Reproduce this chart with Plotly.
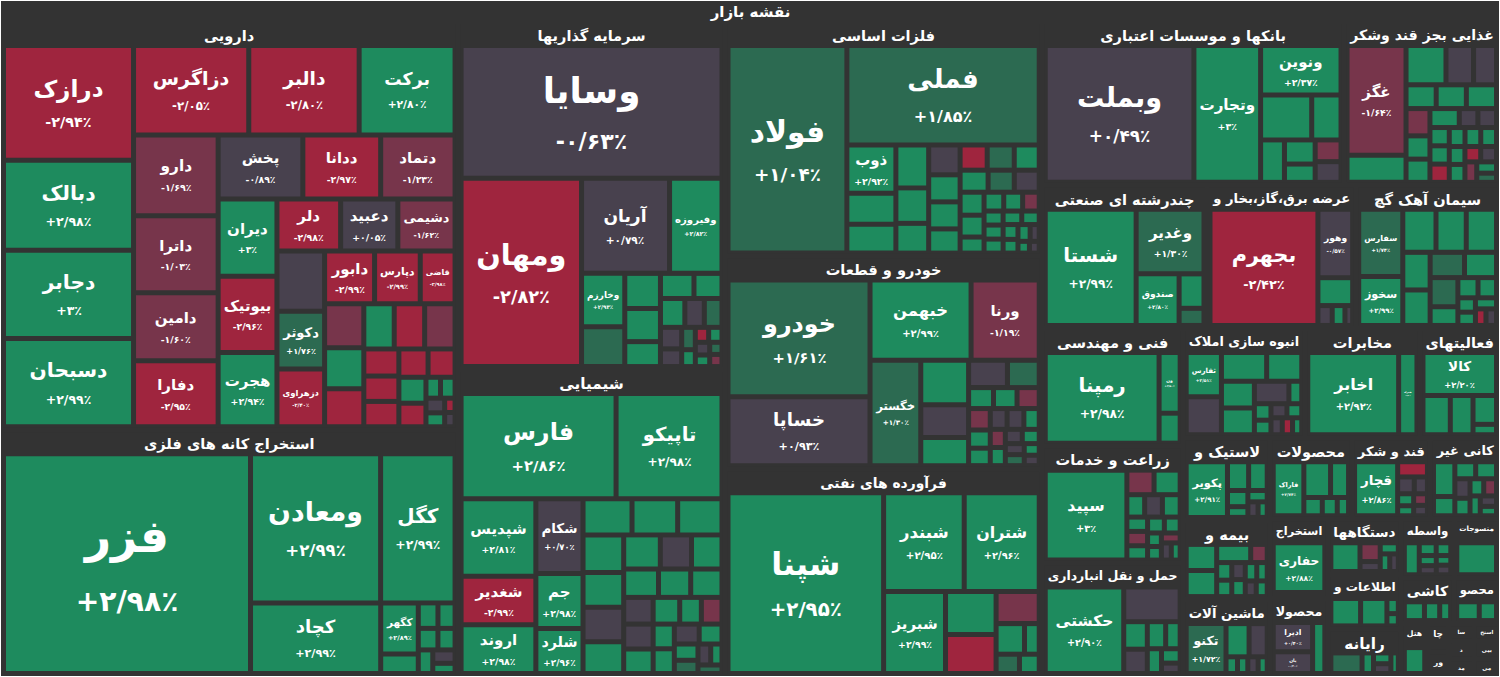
import plotly.graph_objects as go

BG = "#333333"
GREEN = "#1e8b5e"
MGREEN = "#2c6a51"
GREY = "#48414e"
MRED = "#77354b"
RED = "#9f253e"
GAP = 5

title = "نقشه بازار"

# sector headers and their share of the map (box area / 100 px)
sector_names = [
    "دارویی", "استخراج کانه های فلزی", "سرمایه گذاریها", "شیمیایی", "فلزات اساسی",
    "خودرو و قطعات", "فرآورده های نفتی", "بانکها و موسسات اعتباری", "غذایی بجز قند وشکر",
    "چندرشته ای صنعتی", "عرضه برق،گاز،بخار و", "سیمان آهک گچ", "فنی و مهندسی",
    "زراعت و خدمات", "حمل و نقل انبارداری", "انبوه سازی املاک", "مخابرات", "فعالیتهای",
    "لاستیک و", "محصولات", "قند و شکر", "کانی غیر", "بیمه و", "ماشین آلات", "استخراج",
    "دستگاهها", "واسطه", "منسوجات", "اطلاعات و", "محصولا", "رایانه", "کاشی", "محصو",
]
sector_sizes = [
    1870, 1130, 930, 820, 745, 675, 660, 495, 255, 236, 213, 206, 166, 165, 160, 133, 126,
    87, 72, 66, 64, 56, 69, 67, 46, 41, 31, 27, 40, 45, 35, 24, 21,
]

# very small sectors at the bottom right corner
tiny_names = ["هتل", "چا", "ور", "سا", "استخ", "د", "مد", "بیی", "می"]
tiny_sizes = [14, 6, 5, 4.5, 4.5, 4.5, 4.5, 4.5, 4.5]
tiny_chg = [2.9, -0.2, 2.9, 2.9, 2.9, 2.9, 2.9, -0.3, 2.9]

# stocks (visible box area / 100 px): named ones first, then the unlabeled small boxes
daru_names = ["درازک", "دبالک", "دجابر", "دسبحان", "دزاگرس", "دالبر", "برکت", "دارو", "داترا",
              "دفارا", "دامین", "پخش", "ددانا", "دتماد", "دیران", "هجرت", "بیوتیک", "دلر",
              "دعبید", "دشیمی", "دکوثر", "دزهراوی", "دابور", "دپارس", "قاضی"]
daru_size = [134, 104, 102, 102, 91, 87, 75, 59, 56, 47.5, 49, 46, 42, 40, 38, 36.5, 37.5, 27,
             24, 24, 22, 22, 21, 19, 14,
             23, 13, 12, 11, 10, 10, 10, 6.5, 6, 6, 5.5, 5, 4.5, 4, 1.5, 1.5, 1.3, 1.2, 0.5, 0.5]
daru_chg = [-2.94, 2.98, 3.00, 2.99, -2.05, -2.80, 2.80, -1.69, -1.03, -2.95, -1.60, -0.89,
            -2.97, -1.23, 3.00, 2.94, -2.96, -2.98, 0.05, -1.62, 1.76, -2.40, -2.99, -2.99, -2.98,
            -0.4, -1.45, 2.9, -2.9, 2.9, -2.95, -1.3, -2.7, -2.9, -2.8, -2.6, -2.9, 2.9, -2.9,
            2.9, 2.8, -0.2, 2.9, -2.5, -0.3]

kane_names = ["فزر", "ومعادن", "کگل", "کچاد", "کگهر"]
kane_size = [516, 179, 100, 82, 15, 4.8, 3, 2.5, 2.4, 2, 1.8, 1.5, 1.0]
kane_chg = [2.98, 2.99, 2.99, 2.99, 2.89, 2.9, 2.9, 2.9, 2.8, 2.9, 2.9, -0.1, 2.9]

sarm_names = ["وسایا", "ومهان", "آریان", "وفیروزه", "وخارزم"]
sarm_size = [320, 207, 73, 42, 18, 13, 9, 8.4, 6, 5.6, 4.5, 4.5, 3.4, 3, 2.6, 2, 1.5, 1, 0.8,
             0.8, 0.7, 0.6, 0.5, 0.5]
sarm_chg = [-0.63, -2.82, 0.79, 2.82, 2.93, 1.5, 2.9, 2.9, 2.9, 2.9, 2.9, 2.8, 0.2, 1.2, -0.4,
            -0.3, 1.3, 2.9, -2.8, 2.9, -0.2, 2.5, 1.4, -1.8]

shim_names = ["فارس", "تاپیکو", "شپدیس", "شغدیر", "اروند", "شکام", "جم", "شلرد"]
shim_size = [143, 96, 48, 29, 29, 28, 20, 16, 13, 12, 11.6, 11, 10, 10, 9, 8.7, 7.2, 7, 6.6, 6,
             5.8, 5, 4.6, 4.5, 4.4, 3.4, 3.2, 3, 3, 2.8, 2.5, 2, 1.5, 1.2, 1, 0.8]
shim_chg = [2.86, 2.98, 2.81, -2.99, 2.98, 0.70, 2.98, 2.96, 2.9, 2.9, 2.9, 2.9, 2.9, -0.3, 2.9,
            2.9, -0.5, 2.9, 2.9, 2.9, 2.9, -0.4, 0.3, 2.9, 2.9, 2.9, -1.6, 2.9, 2.9, -0.2, 2.8,
            2.9, 1.5, -0.1, 2.9, 1.3]

felez_names = ["فولاد", "فملی", "ذوب"]
felez_size = [220, 169, 18, 11, 10, 10, 8, 6.5, 6.2, 5.5, 5.5, 4.8, 4.2, 4.2, 3.8, 3.7, 3.4,
              3.2, 3.2, 3, 2, 1.9, 1.8, 1.5, 1.2, 1.2, 1.2, 1.1, 1, 0.9, 0.8, 0.8, 0.5, 0.4, 0.3]
felez_chg = [1.04, 1.85, 2.92, 2.9, 2.9, 2.9, 2.9, 2.9, -0.3, 2.9, 2.9, 2.9, -2.9, 1.5, 2.9,
             2.9, 1.4, -0.2, 2.9, 2.9, 2.9, 2.9, 2.9, -1.5, 2.9, 2.9, 2.9, 2.9, 2.9, 2.9, 2.9,
             2.9, -0.1, 2.9, -0.2]

khodro_names = ["خودرو", "خساپا", "خبهمن", "ورنا", "خگستر"]
khodro_size = [142, 82, 67, 44, 43, 15.6, 11, 9.3, 7, 5.5, 2.9, 2.7, 2.5, 2.5, 2, 1.9, 1.7, 1.7,
               1.5, 1.2, 1.2, 1, 1, 0.8, 0.8, 0.6, 0.5]
khodro_chg = [1.61, 0.93, 2.99, -1.19, 1.30, 2.9, -0.4, 2.9, -0.3, 1.5, 2.9, 2.9, -1.5, -1.6,
              2.9, 2.9, -0.2, -0.5, 2.9, -1.4, 2.9, -0.3, 2.9, -0.2, 1.4, 2.9, -0.1]

naft_names = ["شپنا", "شبندر", "شتران", "شبریز"]
naft_size = [254, 68, 63, 42, 16.6, 14.8, 9.9, 5.7, 2.5, 2.5, 2]
naft_chg = [2.95, 2.95, 2.96, 2.99, 2.9, -2.5, -1.6, 2.9, 2.9, 1.5, 2.9]

bank_names = ["وبملت", "وتجارت", "ونوین"]
bank_size = [185, 80, 33, 17.9, 9.5, 7, 4.8, 3.4, 3.4, 3.2]
bank_chg = [0.49, 3.00, 2.37, 2.9, 2.9, 2.9, 2.9, 2.9, -1.5, -0.3]

ghaza_names = ["غگز"]
ghaza_size = [45, 9.5, 9.3, 6, 4.8, 3.6, 3.6, 3.6, 3.2, 2.6, 2.6, 2.6, 1.4, 1.4, 1.4, 1.4, 1.4,
              1.1, 1.1, 1.1, 1, 1, 0.8, 0.8, 0.8, 0.7, 0.5]
ghaza_chg = [-1.64, 2.9, 2.9, -0.3, -0.5, 2.9, 2.9, 2.9, -1.5, 2.9, 2.9, 2.9, -0.3, -0.2, 2.9,
             2.9, -2.8, 2.9, 2.9, 2.9, 2.9, 2.9, -2.9, -0.2, -1.2, 2.9, 1.4]

chand_names = ["شستا", "وغدیر", "صندوق"]
chand_size = [97, 38, 18, 6, 2.5]
chand_chg = [2.99, 1.30, 2.80, 2.9, 1.4]

bargh_names = ["بجهرم", "وهور"]
bargh_size = [108, 18, 6.4, 1.3, 1.1, 0.5]
bargh_chg = [-2.42, -0.57, 2.9, -0.2, 2.9, -0.1]

siman_names = ["سفارس", "سخوز"]
siman_size = [20, 14, 8.7, 7.8, 7.8, 5.9, 5.5, 4.8, 4.4, 4.4, 2.5, 1.8, 1.6, 0.9, 0.8, 0.8,
              0.5, 0.5]
siman_chg = [1.74, 2.99, 2.9, 2.9, 2.9, 2.9, 2.9, 1.3, 2.9, 1.5, 2.9, 2.9, 2.9, 2.9, 2.9, 2.9,
             -2.9, -0.2]

fanni_names = ["رمپنا", "ون"]
fanni_size = [98, 10, 4.3]
fanni_chg = [2.98, 2.50, 2.9]

zeraat_names = ["سپید"]
zeraat_size = [62, 4.1, 3.9, 2.1, 2.1, 2.1, 1.4, 1.4, 1.4, 1.2, 1.1, 0.7, 0.7, 0.7, 0.6, 0.5]
zeraat_chg = [3.00, -1.5, 2.9, 2.9, -0.3, 2.9, 2.9, -1.5, 2.9, 2.9, 2.9, 2.9, 2.9, -1.2, -0.2,
              2.9]

haml_names = ["حکشتی"]
haml_size = [60, 15.4, 4.2, 3.6, 3, 2.2, 1.9, 1.3, 0.8]
haml_chg = [2.90, -0.3, 2.9, -0.2, 2.9, 2.9, 2.9, 2.9, -0.4]

anbooh_names = ["ثفارس"]
anbooh_size = [11, 9.2, 8.9, 6.6, 5.6, 5.6, 4.8, 1.3, 1.2, 1.0, 0.9, 0.8, 0.7, 0.6, 0.5]
anbooh_chg = [2.51, -0.4, 2.9, 2.9, 2.9, 2.9, -0.3, 2.9, 2.9, 2.9, -0.2, 2.9, -0.3, -2.8, 2.9]

mokhaberat_names = ["اخابر", "همراه"]
mokhaberat_size = [64, 11]
mokhaberat_chg = [2.92, 2.50]

faal_names = ["کالا"]
faal_size = [24, 7, 5.6, 4, 1]
faal_chg = [2.20, 2.9, 2.9, 2.9, 2.9]

lastik_names = ["پکویر"]
lastik_size = [19, 4, 3.4, 1.8, 1, 1, 0.6, 0.5]
lastik_chg = [2.91, 2.9, 2.9, 2.9, 2.9, 2.9, -0.2, 2.9]

mahsool_names = ["فاراک"]
mahsool_size = [14, 7.4, 4.6, 2, 1.5, 1]
mahsool_chg = [2.74, 2.9, 2.9, 2.9, 2.9, 2.9]

ghand_names = ["قچار"]
ghand_size = [19, 2.7, 1.4, 1, 0.8, 0.6, 0.6, 0.5]
ghand_chg = [2.86, -2.8, -0.3, -0.2, 2.9, 2.9, -1.5, -0.2]

kani_size = [4.7, 2.2, 1.8, 1.8, 1.4, 1.2, 1, 0.9, 0.8, 0.6, 0.5]
kani_chg = [2.9, 2.9, 2.9, 2.9, -0.3, 2.9, 2.9, -1.5, 2.9, -0.2, 2.9]

bime_size = [4.4, 4.4, 3.2, 1.2, 1, 0.9, 0.8, 0.8, 0.7, 0.6, 0.5, 0.5]
bime_chg = [2.9, 2.9, 2.9, -1.6, 2.9, 2.9, -0.2, 2.9, 2.9, 2.9, -0.3, 2.9]

mashin_names = ["تکنو"]
mashin_size = [13, 4.2, 3.1, 0.6, 0.5, 0.5, 0.4]
mashin_chg = [1.72, 2.9, -0.3, 2.9, 2.9, -0.2, 2.9]

estekhraj_names = ["حفاری"]
estekhraj_size = [22, 0.6]
estekhraj_chg = [2.88, 2.9]

dastgah_size = [5.5, 2, 0.8, 0.8, 0.6, 0.5]
dastgah_chg = [2.9, -1.5, -0.3, 2.9, 2.9, -0.2]

vaseteh_size = [3, 1, 0.8, 0.7, 0.6, 0.5, 0.5]
vaseteh_chg = [2.9, 2.9, 2.9, 2.9, -0.2, 2.9, -0.3]

nasaji_size = [9]
nasaji_chg = [2.9]

etelaat_size = [5.8, 5, 0.7, 0.5]
etelaat_chg = [2.9, 2.9, 2.9, 2.9]

kaghaz_names = ["ادیرا", "یان"]
kaghaz_size = [10, 7, 4.8]
kaghaz_chg = [0.40, -0.20, 2.9]

rayaneh_size = [3.9, 1, 0.7, 0.6, 0.5]
rayaneh_chg = [1.4, 2.9, 2.9, -0.2, 2.9]

kashi_size = [1.5, 1, 0.6]
kashi_chg = [2.9, 2.9, 2.9]

ghazaei_size = [1.2, 0.8]
ghazaei_chg = [2.9, 2.9]

sector_tiles = [
    (daru_names, daru_size, daru_chg),
    (kane_names, kane_size, kane_chg),
    (sarm_names, sarm_size, sarm_chg),
    (shim_names, shim_size, shim_chg),
    (felez_names, felez_size, felez_chg),
    (khodro_names, khodro_size, khodro_chg),
    (naft_names, naft_size, naft_chg),
    (bank_names, bank_size, bank_chg),
    (ghaza_names, ghaza_size, ghaza_chg),
    (chand_names, chand_size, chand_chg),
    (bargh_names, bargh_size, bargh_chg),
    (siman_names, siman_size, siman_chg),
    (fanni_names, fanni_size, fanni_chg),
    (zeraat_names, zeraat_size, zeraat_chg),
    (haml_names, haml_size, haml_chg),
    (anbooh_names, anbooh_size, anbooh_chg),
    (mokhaberat_names, mokhaberat_size, mokhaberat_chg),
    (faal_names, faal_size, faal_chg),
    (lastik_names, lastik_size, lastik_chg),
    (mahsool_names, mahsool_size, mahsool_chg),
    (ghand_names, ghand_size, ghand_chg),
    ([], kani_size, kani_chg),
    ([], bime_size, bime_chg),
    (mashin_names, mashin_size, mashin_chg),
    (estekhraj_names, estekhraj_size, estekhraj_chg),
    ([], dastgah_size, dastgah_chg),
    ([], vaseteh_size, vaseteh_chg),
    ([], nasaji_size, nasaji_chg),
    ([], etelaat_size, etelaat_chg),
    (kaghaz_names, kaghaz_size, kaghaz_chg),
    ([], rayaneh_size, rayaneh_chg),
    ([], kashi_size, kashi_chg),
    ([], ghazaei_size, ghazaei_chg),
]
for n, s, c in zip(tiny_names, tiny_sizes, tiny_chg):
    sector_names.append(n)
    sector_sizes.append(s)
    sector_tiles.append(([], [1], [c]))

FA = str.maketrans("0123456789.", "۰۱۲۳۴۵۶۷۸۹/")


def fmt(c):
    a = abs(c)
    s = f"{a:.0f}" if abs(a - round(a)) < 1e-9 else f"{a:.2f}"
    return ("+" if c >= 0 else "-") + s.translate(FA) + "٪"


def tile_color(c):
    if c <= -2:
        return RED
    if c <= -1:
        return MRED
    if c < 1:
        return GREY
    if c < 2:
        return MGREEN
    return GREEN


ids = ["root"]
labels = [title]
parents = [""]
values = [0]
colors = [BG]
texts = [title]
fsize = [15]

for i, (sname, ssize, (names, tsize, tchg)) in enumerate(zip(sector_names, sector_sizes, sector_tiles)):
    sid = f"s{i}"
    ids.append(sid)
    labels.append(sname)
    parents.append("root")
    values.append(0)
    colors.append(BG)
    texts.append(sname)
    fsize.append(17)
    # the measured boxes are the visible ones; the layout also spends the gutter around each box
    weights = [((sz * 100) ** 0.5 + GAP) ** 2 for sz in tsize]
    total = sum(weights)
    for j, (sz, w, ch) in enumerate(zip(tsize, weights, tchg)):
        name = names[j] if j < len(names) else ""
        ids.append(f"{sid}_{j}")
        labels.append(name or f"{sid}_{j}")
        parents.append(sid)
        values.append(w / total * ssize)
        colors.append(tile_color(ch))
        if name:
            fs = max(15, min(46, 0.2 * (sz * 100) ** 0.5))
            texts.append(f"{name}<br><span style='font-size:{fs * 0.62:.1f}px'>{fmt(ch)}</span>")
        else:
            fs = 10
            texts.append("")
        fsize.append(fs)

fig = go.Figure(go.Treemap(
    ids=ids, labels=labels, parents=parents, values=values,
    branchvalues="remainder",
    text=texts, texttemplate="%{text}",
    textposition="middle center",
    textfont=dict(family="DejaVu Sans", color="white", size=fsize, weight="bold"),
    marker=dict(colors=colors, line=dict(color=BG, width=0),
                pad=dict(t=24, l=3, r=3, b=3)),
    tiling=dict(pad=GAP, squarifyratio=1),
    pathbar=dict(visible=False),
    hoverinfo="skip",
    sort=True,
))

fig.update_layout(width=1500, height=677, margin=dict(l=0, r=0, t=0, b=0),
                  paper_bgcolor=BG, plot_bgcolor=BG)

fig.write_html("out.html", config={"displayModeBar": False},
               post_script="document.body.style.margin='0';document.body.style.overflow='hidden';")
